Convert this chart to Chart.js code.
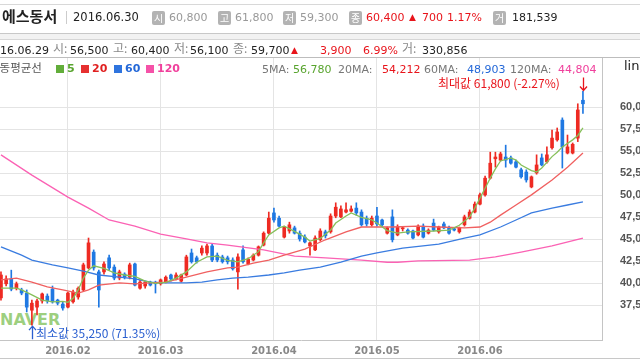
<!DOCTYPE html>
<html><head><meta charset="utf-8">
<script src="https://cdn.jsdelivr.net/npm/chart.js@4/dist/chart.umd.min.js"></script>
<style>
html,body{margin:0;padding:0;background:#fff;}
body{width:640px;height:360px;overflow:hidden;position:relative;font-family:"DejaVu Sans",sans-serif;}
canvas{display:block;}
.a{position:absolute;white-space:nowrap;line-height:1;}
.kr{font-family:"Noto Sans CJK KR",sans-serif;}
.n{font-family:"DejaVu Sans",sans-serif;font-size:11px;}
.ic{position:absolute;top:11px;width:13px;height:14px;background:#b3b3b3;border-radius:2px;color:#fff;font-family:"Noto Sans CJK KR";font-size:10px;line-height:14px;text-align:center;}
.ln{position:absolute;left:0;width:640px;height:1px;}
.sq{position:absolute;top:65px;width:8px;height:8px;}
#wrap{position:absolute;left:0;top:0;width:640px;height:360px;}
</style></head>
<body>
<div class="a" style="left:0;top:312px;font-family:'DejaVu Sans';font-weight:bold;font-size:16px;color:rgba(125,192,85,0.75);">NAVER</div>
<div id="wrap"><canvas id="c" width="640" height="360"></canvas></div>

<div class="ln" style="top:4px;background:#d8d8d8"></div>
<div class="a kr" style="left:2px;top:8px;font-size:15px;font-weight:bold;color:#222">에스동서</div>
<div style="position:absolute;left:66px;top:11px;width:1px;height:13px;background:#ccc"></div>
<div class="a n" style="left:73px;top:12px;color:#222;font-size:11.5px">2016.06.30</div>
<div class="ic" style="left:152px">시</div><div class="a n" style="left:169px;top:12px;color:#999">60,800</div>
<div class="ic" style="left:218px">고</div><div class="a n" style="left:235px;top:12px;color:#999">61,800</div>
<div class="ic" style="left:283px">저</div><div class="a n" style="left:300px;top:12px;color:#999">59,300</div>
<div class="ic" style="left:349px">종</div><div class="a n" style="left:366px;top:12px;color:#e8141b">60,400</div>
<div class="a n" style="left:409px;top:13px;color:#e8141b;font-size:9px">▲</div>
<div class="a n" style="left:422px;top:12px;color:#e8141b">700</div>
<div class="a n" style="left:447px;top:12px;color:#e8141b">1.17%</div>
<div class="ic" style="left:493px">거</div><div class="a n" style="left:512px;top:12px;color:#222">181,539</div>

<div class="ln" style="top:33px;background:#c8c8c8"></div>
<div class="ln" style="top:34px;height:5px;background:#f2f2f2"></div>
<div class="ln" style="top:39px;background:#d6d6d6"></div>

<div class="a n" style="left:0;top:45px;color:#222">16.06.29</div>
<div class="a kr" style="left:53px;top:42px;font-size:12px;color:#888">시:</div><div class="a n" style="left:70px;top:45px;color:#222">56,500</div>
<div class="a kr" style="left:113px;top:42px;font-size:12px;color:#888">고:</div><div class="a n" style="left:131px;top:45px;color:#222">60,400</div>
<div class="a kr" style="left:174px;top:42px;font-size:12px;color:#888">저:</div><div class="a n" style="left:190px;top:45px;color:#222">56,100</div>
<div class="a kr" style="left:233px;top:42px;font-size:12px;color:#888">종:</div><div class="a n" style="left:251px;top:45px;color:#222">59,700</div>
<div class="a n" style="left:291px;top:46px;color:#e8141b;font-size:9px">▲</div>
<div class="a n" style="left:320px;top:45px;color:#e8141b">3,900</div>
<div class="a n" style="left:363px;top:45px;color:#e8141b">6.99%</div>
<div class="a kr" style="left:402px;top:42px;font-size:12px;color:#888">거:</div><div class="a n" style="left:422px;top:45px;color:#222">330,856</div>
<div class="ln" style="top:57px;background:#bdbdbd"></div>

<div class="a kr" style="left:-11px;top:62px;font-size:11.5px;color:#555">이동평균선</div>
<div class="sq" style="left:56px;background:#62ad3a"></div><div class="a n" style="left:67px;top:63px;font-weight:bold;color:#58a42e">5</div>
<div class="sq" style="left:81px;background:#e63030"></div><div class="a n" style="left:92px;top:63px;font-weight:bold;color:#e02020">20</div>
<div class="sq" style="left:114px;background:#2f74de"></div><div class="a n" style="left:125px;top:63px;font-weight:bold;color:#2468d8">60</div>
<div class="sq" style="left:146px;background:#f552a8"></div><div class="a n" style="left:157px;top:63px;font-weight:bold;color:#f0409c">120</div>

<div class="a n" style="left:262px;top:64px;color:#777">5MA:</div><div class="a n" style="left:293px;top:64px;color:#58a42e">56,780</div>
<div class="a n" style="left:338px;top:64px;color:#777">20MA:</div><div class="a n" style="left:382px;top:64px;color:#e8141b">54,212</div>
<div class="a n" style="left:424px;top:64px;color:#777">60MA:</div><div class="a n" style="left:467px;top:64px;color:#2468d8">48,903</div>
<div class="a n" style="left:510px;top:64px;color:#777">120MA:</div><div class="a n" style="left:558px;top:64px;color:#f0409c">44,804</div>
<div class="a kr" style="left:438px;top:77px;font-size:12px;color:#e8141b">최대값 61,800 (-2.27%)</div>
<div class="a kr" style="left:36px;top:327px;font-size:12px;color:#2a5fd0">최소값 35,250 (71.35%)</div>
<div class="a" style="left:624px;top:59px;font-size:13px;color:#222">linear</div>

<script>
const dates = ['01.13','01.14','01.15','01.18','01.19','01.20','01.21','01.22','01.25','01.26','01.27','01.28','01.29',
'02.01','02.02','02.03','02.04','02.05','02.11','02.12','02.15','02.16','02.17','02.18','02.19','02.22','02.23','02.24','02.25','02.26','02.29',
'03.02','03.03','03.04','03.07','03.08','03.09','03.10','03.11','03.14','03.15','03.16','03.17','03.18','03.21','03.22','03.23','03.24','03.25','03.28','03.29','03.30','03.31',
'04.01','04.04','04.05','04.06','04.07','04.08','04.11','04.12','04.14','04.15','04.18','04.19','04.20','04.21','04.22','04.25','04.26','04.27','04.28','04.29',
'05.02','05.03','05.04','05.09','05.10','05.11','05.12','05.13','05.16','05.17','05.18','05.19','05.20','05.23','05.24','05.25','05.26','05.27','05.30','05.31',
'06.01','06.02','06.03','06.07','06.08','06.09','06.10','06.13','06.14','06.15','06.16','06.17','06.20','06.21','06.22','06.23','06.24','06.27','06.28','06.29','06.30'];

const open = [38350,39950,40500,39450,39250,38900,36950,37300,38000,38550,39350,38100,37650,
37300,37900,38450,39250,41750,43550,41300,41300,42900,41850,40600,41050,40700,42200,39450,39700,40150,40050,
39950,40150,40950,40500,40250,40950,43450,42900,43450,43450,44250,43200,43000,42900,42650,41300,43800,42200,42650,43200,44350,45700,
48000,47400,45250,45950,46300,45700,45250,44250,43800,44950,45850,45850,47650,47550,48100,48200,48550,48100,47400,46650,
47650,47200,45700,47550,45500,46200,46050,45950,45500,46500,45700,46850,45850,46750,46300,46200,45850,46650,47400,48100,
49000,50050,51950,54150,54000,54350,54250,53800,52900,52650,50950,52550,54250,53800,55400,56300,58550,54800,54800,56500,60800];
const high = [41300,40850,41500,40150,39450,39250,38100,38200,38900,38800,39700,38200,37900,
39000,39250,39600,42300,45150,43800,41500,42450,43200,42100,41500,41200,42300,42300,40400,40250,40250,40250,
40500,40850,41050,41200,41050,43200,43900,43100,44250,44450,44450,43450,43200,43100,42900,43350,44250,42900,43350,44250,45850,48100,
48550,47650,46500,46950,46500,45950,45500,44700,45400,46200,46050,47900,49150,48800,49150,48800,49150,48350,47650,47650,
48650,47300,46400,48350,46650,46400,46200,46050,46650,46750,46200,47300,46500,46950,46500,46300,46400,47750,48350,49250,
50250,52200,54900,54900,54900,55700,54450,54000,53100,52900,52200,54600,54700,55500,57400,57650,58800,56850,55950,60400,61800];
const low = [38100,39700,39150,39250,38700,36750,35250,36400,37750,37750,37750,37550,36950,
37200,37750,38200,39150,41650,41500,37300,41050,41500,40400,40400,40500,40500,39700,39350,39450,39700,38900,
39800,40050,40250,40400,40150,40850,42300,42300,43200,43200,42450,42450,42300,42200,41500,39350,42300,42100,42550,43100,44250,45600,
46950,46400,45150,45700,45600,44800,44600,43200,43700,44800,45150,45700,47450,47450,48000,48100,47750,46500,46500,46500,
46500,46500,45600,44700,45400,45950,45600,45050,45400,45150,45600,45950,45700,46200,45600,45950,45700,46500,47300,48000,
48900,49900,51850,53200,53900,53200,53550,53100,51950,51500,50850,52400,53350,53650,55250,56150,53100,54700,54700,56100,59300];
const close = [40950,40500,39350,39950,38900,37300,37750,38000,38800,38000,37900,37750,37200,
38900,39000,39450,42100,44600,41750,39250,42200,41750,40600,41300,40700,42100,39800,40150,40150,39800,39950,
40400,40700,40500,40950,40950,43000,42450,42450,44000,44250,42650,42650,42450,42450,41650,43000,42450,42750,43200,44150,45700,47400,
47200,46500,46400,46650,45700,45050,44700,44600,45150,45950,45400,47650,48650,48450,48350,48450,48000,46650,46750,47400,
46750,46650,46300,44950,46400,46300,45700,45150,46500,45250,46050,46050,46400,46300,45700,46050,46300,47550,48100,49000,
50050,51950,53650,54350,54700,54000,53650,53200,52100,51750,52100,53450,53450,54600,56500,57200,55500,55500,55800,59700,60400];

// moving average lines as [day index, price]
const ma5 = [[0,39450],[3,39450],[4,39250],[6,38700],[8,38100],[10,37900],[12,37950],[13,37850],[14,38300],[15,39250],[16,40600],[17,41500],[18,42000],[20,41700],[22,41200],[24,40950],[26,40800],[28,40250],[30,40000],[32,40100],[34,40600],[36,41300],[38,42400],[40,43000],[42,43100],[44,42600],[46,42450],[48,42800],[50,43600],[51,44600],[52,45500],[54,46300],[55,46500],[57,45900],[59,45250],[60,44800],[62,45100],[64,46050],[65,46850],[67,47650],[68,48000],[70,47500],[72,47200],[73,46850],[75,46000],[77,45700],[79,45850],[84,45950],[87,46050],[89,46600],[91,47550],[92,48550],[94,50800],[95,51950],[96,53000],[97,53900],[99,54250],[100,54000],[101,53450],[103,52800],[104,52650],[105,53100],[107,54400],[108,54900],[109,55500],[111,56300],[112,56800],[113,57650]];
const ma20 = [[0,40400],[3,40600],[6,40150],[9,39600],[12,39250],[15,38900],[17,39250],[19,39800],[23,40050],[26,39950],[29,40050],[32,40150],[36,40700],[40,41300],[44,41750],[46,41850],[49,42300],[52,42650],[55,43200],[59,43900],[63,44950],[67,45850],[70,46400],[73,46400],[76,46400],[81,46500],[85,46400],[90,46300],[93,46400],[95,46950],[97,47750],[100,48900],[103,50050],[107,51750],[110,53200],[113,54800]];
const ma60 = [[0,44150],[4,43200],[6,42650],[10,42100],[13,41750],[16,41400],[19,40950],[23,40700],[26,40500],[29,40150],[32,40050],[36,40050],[39,40150],[42,40400],[45,40600],[48,40700],[52,40950],[55,41200],[58,41500],[62,41850],[66,42400],[70,43100],[73,43450],[78,44000],[85,44450],[90,45150],[93,45500],[97,46400],[100,47200],[103,48000],[107,48550],[110,48900],[113,49250]];
const ma120 = [[0,54600],[6,52300],[13,49800],[17,48550],[21,47200],[26,46500],[31,45600],[36,45050],[40,44600],[44,44350],[51,43800],[57,43100],[63,42900],[70,42650],[75,42400],[77,42400],[81,42550],[91,42650],[96,43000],[101,43550],[107,44250],[113,45150]];

const yTicks = [37500,40000,42500,45000,47500,50000,52500,55000,57500,60000];

const UP = '#ee2a22', DOWN = '#1f78e2';
const col = open.map((o,i)=> close[i] >= o ? UP : DOWN);
const monthIdx = dates.map((d,i)=> i>0 && d.slice(0,2)!==dates[i-1].slice(0,2) ? i : -1).filter(i=>i>=0);

const markPlugin = {
  id:'marks',
  afterDatasetsDraw(chart){
    const xs=chart.scales.x, ys=chart.scales.y, ctx=chart.ctx;
    const hi=Math.max(...high), hiI=high.indexOf(hi);
    const lo=Math.min(...low), loI=low.indexOf(lo);
    ctx.save();
    ctx.lineWidth=1.3;
    let x=Math.round(xs.getPixelForValue(hiI))+0.5, y=ys.getPixelForValue(hi);
    ctx.strokeStyle='#e8141b';
    ctx.beginPath();ctx.moveTo(x,y-14);ctx.lineTo(x,y-1);ctx.moveTo(x-3.5,y-5);ctx.lineTo(x,y-1);ctx.lineTo(x+3.5,y-5);ctx.stroke();
    x=Math.round(xs.getPixelForValue(loI))+0.5; y=ys.getPixelForValue(lo);
    ctx.strokeStyle='#2a5fd0';
    ctx.beginPath();ctx.moveTo(x,y+14);ctx.lineTo(x,y+1);ctx.moveTo(x-3.5,y+5);ctx.lineTo(x,y+1);ctx.lineTo(x+3.5,y+5);ctx.stroke();
    ctx.restore();
  }
};

const pts = a => a.map(p=>({x:p[0],y:p[1]}));
const lineDs = (data,color,order)=>({type:'line',data:pts(data),borderColor:color,borderWidth:1.3,pointRadius:0,tension:0,order:order,fill:false});

let xAxisH = 20;
const chart = new Chart(document.getElementById('c'),{
  type:'bar',
  data:{datasets:[
    lineDs(ma5,'#86c05a',1),
    lineDs(ma20,'#f06060',2),
    lineDs(ma60,'#3a7ce0',3),
    lineDs(ma120,'#fb62b4',4),
    {data:open.map((o,i)=>({x:i,y:[Math.min(o,close[i]),Math.max(o,close[i])]})),backgroundColor:col,barThickness:3,minBarLength:1,grouped:false,order:10},
    {data:open.map((o,i)=>({x:i,y:[low[i],high[i]]})),backgroundColor:col,barThickness:1,grouped:false,order:11}
  ]},
  options:{
    responsive:false,animation:false,events:[],
    layout:{padding:{top:58,left:0,right:0,bottom:0}},
    plugins:{legend:{display:false},tooltip:{enabled:false}},
    scales:{
      x:{type:'linear',min:-0.19,max:116.7,offset:false,
        afterBuildTicks:s=>{s.ticks=monthIdx.map(v=>({value:v}));},
        afterFit:s=>{s.height=xAxisH;s.paddingLeft=0;s.paddingRight=0;},
        ticks:{autoSkip:false,maxRotation:0,padding:5,color:'#888',font:{family:'DejaVu Sans',size:10,weight:'bold'},
          callback:v=>'2016.'+dates[v].slice(0,2)},
        grid:{color:'#e4e4e4',drawTicks:false,offset:false},
        border:{color:'#c4c4c4'}},
      y:{position:'right',min:33565,max:65600,
        afterBuildTicks:s=>{s.ticks=yTicks.map(v=>({value:v}));},
        afterFit:s=>{s.width=38;s.paddingTop=0;s.paddingBottom=0;},
        ticks:{padding:18,color:'#555',font:{family:'Liberation Sans',size:11,weight:'bold'},callback:v=>v.toLocaleString('en-US')},
        grid:{color:'#e4e4e4',drawTicks:false},
        border:{color:'#c4c4c4'}}
    }
  },
  plugins:[markPlugin]
});
// keep the plot bottom on the 340px line
const diff = chart.chartArea.bottom - 340;
if (Math.abs(diff) > 0.1) { xAxisH = Math.max(1, 20 + diff); chart.update(); }
</script>
<div class="ln" style="top:358px;background:#c8c8c8"></div>
</body></html>
